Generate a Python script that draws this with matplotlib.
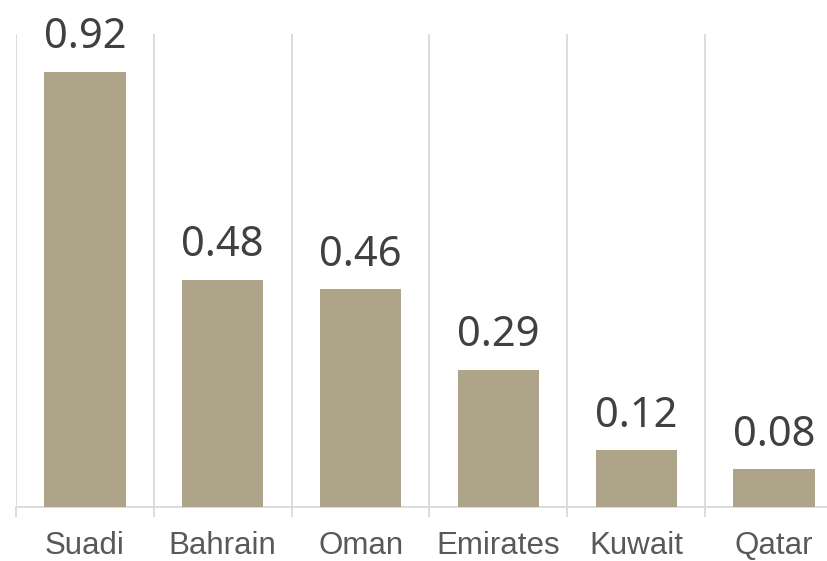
import matplotlib

matplotlib.use("Agg")
import matplotlib.pyplot as plt
import numpy as np

categories = ["Suadi", "Bahrain", "Oman", "Emirates", "Kuwait", "Qatar"]
values = [0.92, 0.48, 0.46, 0.29, 0.12, 0.08]

bar_color = "#ADA48A"
grid_color = "#D9D9D9"

W, H = 828, 561
fig = plt.figure(figsize=(W / 100, H / 100), dpi=100)
# axes runs past the right edge of the picture, as in the reference
ax = fig.add_axes([16 / W, 54 / H, 827 / W, 473 / H])

x = np.arange(len(categories))
ax.bar(x, values, width=0.59, color=bar_color, zorder=3)

for xi, v in zip(x, values):
    ax.annotate(f"{v:.2f}", (xi, v), xytext=(0, 17), textcoords="offset points",
                ha="center", va="baseline", fontsize=30, color="#404040",
                family="Noto Sans")

ax.set_xlim(-0.5, len(categories) - 0.5)
ax.set_ylim(0, 1.0)

bounds = np.arange(len(categories) + 1) - 0.5
ax.set_xticks(bounds, minor=True)
ax.set_xticks(x)
ax.set_xticklabels(categories, fontsize=22.5, color="#595959", family="Liberation Sans")
ax.tick_params(axis="x", which="major", length=0, pad=17.5)
ax.tick_params(axis="x", which="minor", length=7, width=1.3, color=grid_color)
ax.grid(axis="x", which="minor", color=grid_color, linewidth=1.3, zorder=0)
ax.set_yticks([])

for side in ["top", "right", "left"]:
    ax.spines[side].set_visible(False)
ax.spines["bottom"].set_color(grid_color)
ax.spines["bottom"].set_linewidth(1.3)

fig.savefig("out.png", dpi=100)
